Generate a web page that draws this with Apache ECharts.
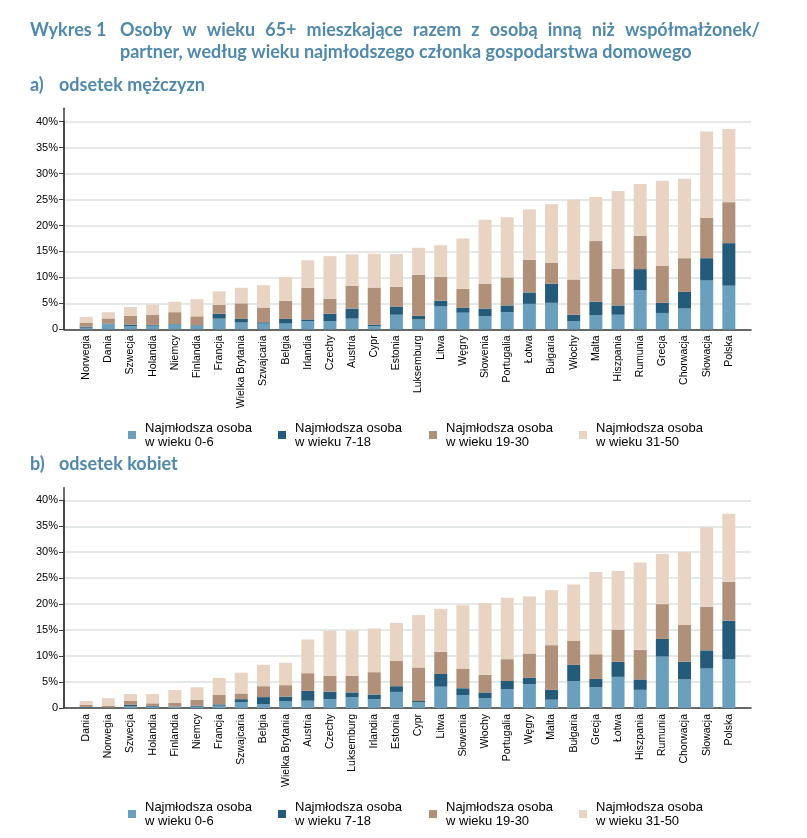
<!DOCTYPE html>
<html><head><meta charset="utf-8">
<script src="https://cdn.jsdelivr.net/npm/echarts@6/dist/echarts.min.js"></script>
<style>html,body{margin:0;padding:0;background:#fff;}#c{width:807px;height:838px;}</style>
</head><body><div id="c"></div>
<script>
// ---- data ----
var seriesNames = ['Najmłodsza osoba\nw wieku 0-6','Najmłodsza osoba\nw wieku 7-18','Najmłodsza osoba\nw wieku 19-30','Najmłodsza osoba\nw wieku 31-50'];
var yTicks = [0,5,10,15,20,25,30,35,40];

var menCountries = ['Norwegia','Dania','Szwecja','Holandia','Niemcy','Finlandia','Francja','Wielka Brytania','Szwajcaria','Belgia','Irlandia','Czechy','Austria','Cypr','Estonia','Luksemburg','Litwa','Węgry','Słowenia','Portugalia','Łotwa','Bułgaria','Włochy','Malta','Hiszpania','Rumunia','Grecja','Chorwacja','Słowacja','Polska'];
var men0_6   = [0.3,1.0,0.6,0.7,0.9,0.7,2.05,1.3,1.1,1.1,1.6,1.6,2.05,0.6,2.8,1.9,4.4,3.2,2.5,3.3,4.9,5.1,1.6,2.7,2.8,7.5,3.15,4.0,9.4,8.4];
var men7_18  = [0.2,0.1,0.3,0.15,0.1,0.1,0.95,0.7,0.25,0.9,0.3,1.4,1.95,0.25,1.6,0.7,1.1,1.0,1.5,1.3,2.2,3.7,1.2,2.6,1.8,4.1,1.95,3.2,4.3,8.2];
var men19_30 = [0.8,1.0,1.7,1.9,2.3,1.7,1.7,3.0,2.85,3.5,6.1,2.9,4.4,7.2,3.8,7.9,4.6,3.6,4.8,5.4,6.3,4.05,6.8,11.7,7.1,6.45,7.1,6.5,7.8,7.9];
var men31_50 = [1.1,1.2,1.7,2.0,2.0,3.3,2.6,3.0,4.3,4.6,5.3,8.2,6.05,6.5,6.3,5.2,6.1,9.7,12.3,11.6,9.7,11.25,15.4,8.5,14.95,9.95,16.4,15.3,16.6,14.1];

var womenCountries = ['Dania','Norwegia','Szwecja','Holandia','Finlandia','Niemcy','Francja','Szwajcaria','Belgia','Wielka Brytania','Austria','Czechy','Luksemburg','Irlandia','Estonia','Cypr','Litwa','Słowenia','Włochy','Portugalia','Węgry','Malta','Bułgaria','Grecja','Łotwa','Hiszpania','Rumunia','Chorwacja','Słowacja','Polska'];
var women0_6   = [0.1,0.05,0.3,0.25,0.2,0.25,0.45,1.15,0.77,1.35,1.4,1.7,2.05,1.7,3.1,1.1,4.1,2.5,1.9,3.6,4.6,1.6,5.2,4.0,6.0,3.5,9.9,5.5,7.6,9.4];
var women7_18  = [0.1,0.05,0.3,0.15,0.06,0.2,0.25,0.55,1.33,0.85,1.9,1.45,0.95,0.9,1.1,0.25,2.45,1.3,1.1,1.6,1.2,1.9,3.1,1.6,2.9,2.0,3.4,3.4,3.5,7.4];
var women19_30 = [0.45,0.3,0.75,0.5,0.7,1.15,1.8,1.1,2.1,2.2,3.4,3.05,3.2,4.3,4.85,6.45,4.25,3.8,3.4,4.2,4.7,8.6,4.6,4.75,6.2,5.7,6.7,7.1,8.4,7.5];
var women31_50 = [0.7,1.5,1.35,1.8,2.5,2.4,3.3,4.0,4.1,4.3,6.5,8.7,8.7,8.4,7.35,10.1,8.3,12.2,13.8,11.85,11.0,10.6,10.9,15.85,11.3,16.8,9.7,14.05,15.3,13.1];

var titleLine1 = ['Osoby','w','wieku','65+','mieszkające','razem','z','osobą','inną','niż','współmałżonek/'];
var titleLine2 = 'partner, według wieku najmłodszego członka gospodarstwa domowego';

// ---- styling ----
var colors = ['#6a9fbd','#245a7a','#b09079','#e9d4c4'];
var titleColor = '#4f89ad';
var titleFont = 'bold 18px Lato';
var axisColor = '#3c3c3c';
var gridColor = '#dde1e2';
var labelFont = 'Liberation Sans';

var chart = echarts.init(document.getElementById('c'), null, {renderer:'canvas'});

function pad(arr){ return [''].concat(arr).concat(['']); }
function padData(arr){ return ['-'].concat(arr).concat(['-']); }

var grids = [
  {left:64, right:56, top:121.7, bottom:508.7},
  {left:64, right:56, top:500.3, bottom:130},
  {left:64, right:56, top:108.3, bottom:508.7},
  {left:64, right:56, top:487.7, bottom:130}
];

function catAxis(gi, cats){
  return {type:'category', gridIndex:gi, data:pad(cats), boundaryGap:false,
    axisLine:{lineStyle:{color:axisColor,width:1.5}}, axisTick:{show:false},
    axisLabel:{rotate:90, interval:0, margin:6, fontSize:10.5, color:'#000', fontFamily:labelFont},
    splitLine:{show:false}};
}
function valAxis(gi){
  return {type:'value', gridIndex:gi, min:0, max:40, interval:5,
    axisLine:{show:true, lineStyle:{color:axisColor,width:1.5}},
    axisTick:{show:true, length:5, lineStyle:{color:axisColor,width:1}},
    axisLabel:{margin:6, fontSize:11, color:'#000', fontFamily:labelFont,
      formatter:function(v){return v===0?'0':v+'%';}},
    splitLine:{show:true, lineStyle:{color:gridColor,width:1.5}}};
}
function extAxisX(gi){ return {type:'category', gridIndex:gi, show:false, data:['a']}; }
function extAxisY(gi){ return {type:'value', gridIndex:gi, min:0, max:1,
  axisLine:{show:true, lineStyle:{color:axisColor,width:1.5}}, axisTick:{show:false},
  axisLabel:{show:false}, splitLine:{show:false}}; }

var menData = [men0_6, men7_18, men19_30, men31_50];
var womenData = [women0_6, women7_18, women19_30, women31_50];
var series = [];
for (var i=0;i<4;i++){
  series.push({name:seriesNames[i], type:'bar', stack:'m', xAxisIndex:0, yAxisIndex:0,
    barWidth:13, data:padData(menData[i]), itemStyle:{color:colors[i]}});
}
for (var i=0;i<4;i++){
  series.push({name:seriesNames[i], type:'bar', stack:'k', xAxisIndex:1, yAxisIndex:1,
    barWidth:13, data:padData(womenData[i]), itemStyle:{color:colors[i]}});
}

var legendX = [123, 273, 424, 574];
var legends = [];
[416, 795].forEach(function(top){
  for (var i=0;i<4;i++){
    legends.push({data:[seriesNames[i]], left:legendX[i], top:top, itemWidth:8, itemHeight:8, itemGap:0,
      icon:'rect', selectedMode:false,
      textStyle:{fontSize:13, lineHeight:14, color:'#000', fontFamily:labelFont, padding:[0,0,0,4]}});
  }
});

// justified title line 1
var ctx = document.createElement('canvas').getContext('2d');
ctx.font = titleFont;
var x0 = 120, x1 = 760;
var wsum = 0, widths = [];
titleLine1.forEach(function(w){ var m = ctx.measureText(w).width; widths.push(m); wsum += m; });
var gap = (x1 - x0 - wsum) / (titleLine1.length - 1);
var graphics = [];
var cx = x0;
titleLine1.forEach(function(w, k){
  graphics.push({type:'text', left:cx, top:21, style:{text:w, font:titleFont, fill:titleColor}});
  cx += widths[k] + gap;
});
graphics.push({type:'text', left:30, top:21, style:{text:'Wykres 1', font:titleFont, fill:titleColor}});
graphics.push({type:'text', left:120, top:43, style:{text:titleLine2, font:titleFont, fill:titleColor}});
graphics.push({type:'text', left:30, top:76, style:{text:'a)', font:titleFont, fill:titleColor}});
graphics.push({type:'text', left:59, top:76, style:{text:'odsetek mężczyzn', font:titleFont, fill:titleColor}});
graphics.push({type:'text', left:30, top:455, style:{text:'b)', font:titleFont, fill:titleColor}});
graphics.push({type:'text', left:59, top:455, style:{text:'odsetek kobiet', font:titleFont, fill:titleColor}});

chart.setOption({
  animation:false,
  backgroundColor:'#fff',
  grid:grids,
  xAxis:[catAxis(0, menCountries), catAxis(1, womenCountries), extAxisX(2), extAxisX(3)],
  yAxis:[valAxis(0), valAxis(1), extAxisY(2), extAxisY(3)],
  legend:legends,
  series:series,
  graphic:graphics
});
</script>
</body></html>
